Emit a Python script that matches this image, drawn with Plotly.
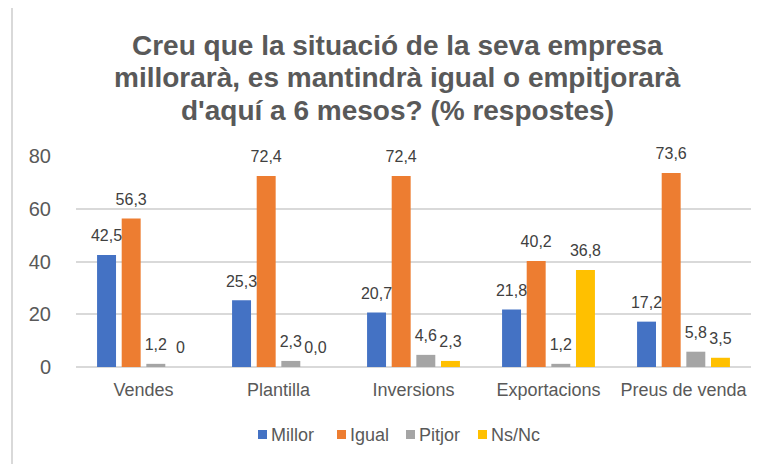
import plotly.graph_objects as go

categories = ["Vendes", "Plantilla", "Inversions", "Exportacions", "Preus de venda"]
millor = [42.5, 25.3, 20.7, 21.8, 17.2]
igual = [56.3, 72.4, 72.4, 40.2, 73.6]
pitjor = [1.2, 2.3, 4.6, 1.2, 5.8]
nsnc = [0, 0.0, 2.3, 36.8, 3.5]
nsnc_labels = ["0", "0,0", "2,3", "36,8", "3,5"]

title_lines = [
    "Creu que la situació de la seva empresa",
    "millorarà, es mantindrà igual o empitjorarà",
    "d'aquí a 6 mesos? (% respostes)",
]

series = [
    ("Millor", millor, "#4472C4", None),
    ("Igual", igual, "#ED7D31", None),
    ("Pitjor", pitjor, "#A5A5A5", None),
    ("Ns/Nc", nsnc, "#FFC000", nsnc_labels),
]

FONT = "Liberation Sans, Arial, sans-serif"

# plot area on screen (page body adds an 8px offset)
PLOT_L, PLOT_R, PLOT_T, PLOT_B = 76, 751, 156, 367


def px_x(sx):
    return (sx - PLOT_L) / (PLOT_R - PLOT_L)


def px_y(sy):
    return (PLOT_B - sy) / (PLOT_B - PLOT_T)


fig = go.Figure()
for name, vals, color, labels in series:
    fig.add_trace(go.Bar(
        name=name,
        x=categories,
        y=vals,
        offsetgroup=name,
        marker=dict(color=color, line=dict(width=0)),
        showlegend=False,
        hoverinfo="x+y+name",
    ))

# value labels as grouped scatter text so they sit a bit higher (like Excel)
for name, vals, color, labels in series:
    if labels is None:
        labels = [f"{v:.1f}".replace(".", ",") for v in vals]
    fig.add_trace(go.Scatter(
        name=name,
        x=categories,
        y=vals,
        offsetgroup=name,
        mode="markers+text",
        marker=dict(size=14, opacity=0),
        text=labels,
        textposition="top center",
        textfont=dict(family=FONT, size=16, color="#404040"),
        cliponaxis=False,
        showlegend=False,
        hoverinfo="skip",
    ))

# title: one annotation per line (Excel uses tighter line spacing)
for txt, sy in zip(title_lines, [45, 78, 110]):
    fig.add_annotation(
        text=f"<b>{txt}</b>", xref="paper", yref="paper",
        x=px_x(397), y=px_y(sy), xanchor="center", yanchor="middle",
        showarrow=False,
        font=dict(family=FONT, size=28, color="#595959"),
    )

# legend drawn by hand to get Excel's compact spacing
legend_x = [258, 337, 406, 478]
for (name, _, color, _), lx in zip(series, legend_x):
    fig.add_shape(type="rect", xref="paper", yref="paper",
                  x0=px_x(lx), x1=px_x(lx + 9), y0=px_y(439), y1=px_y(430),
                  line=dict(width=0), fillcolor=color)
    fig.add_annotation(
        text=name, xref="paper", yref="paper",
        x=px_x(lx + 11), y=px_y(435), xanchor="left", yanchor="middle",
        showarrow=False,
        font=dict(family=FONT, size=18, color="#595959"),
    )

# grey outline around the chart area (runs off right/bottom edges)
fig.add_shape(type="rect", xref="paper", yref="paper",
              x0=px_x(12), x1=px_x(790), y0=px_y(480), y1=px_y(6.5),
              line=dict(color="#D9D9D9", width=2), fillcolor="rgba(0,0,0,0)")

fig.update_layout(
    width=768, height=464,
    margin=dict(l=PLOT_L - 8, r=768 - PLOT_R + 8, t=PLOT_T - 8,
                b=464 - PLOT_B + 8, autoexpand=False),
    paper_bgcolor="white",
    plot_bgcolor="white",
    barmode="group",
    bargap=0.27,
    bargroupgap=0.23,
    scattermode="group",
    scattergap=0.27,
    showlegend=False,
)
fig.update_yaxes(
    range=[0, 80], dtick=20, showgrid=True, gridcolor="#D9D9D9", gridwidth=1.5,
    zeroline=True, zerolinecolor="#D9D9D9", zerolinewidth=1.5,
    tickfont=dict(family=FONT, size=20, color="#595959"),
    ticks="outside", ticklen=20, tickcolor="rgba(0,0,0,0)", showline=False,
)
fig.update_xaxes(
    tickfont=dict(family=FONT, size=18, color="#595959"),
    ticks="outside", ticklen=6, tickcolor="rgba(0,0,0,0)", showline=False,
)

fig.write_html("out.html")
